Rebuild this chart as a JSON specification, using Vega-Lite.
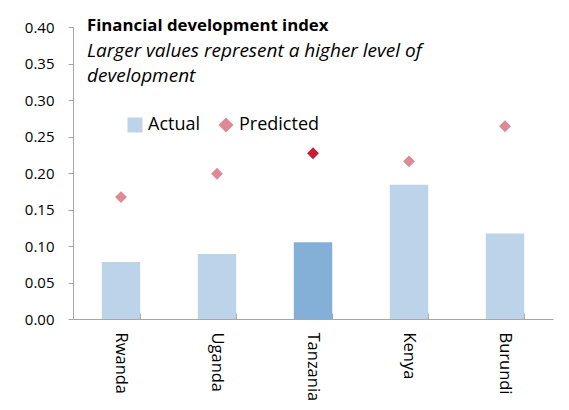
{
  "$schema": "https://vega.github.io/schema/vega-lite/v6.json",
  "autosize": "none",
  "width": 480,
  "height": 292,
  "padding": {"left": 73, "top": 27, "right": 16, "bottom": 91},
  "background": "white",
  "config": {
    "view": {"stroke": null},
    "font": "Open Sans"
  },
  "title": {
    "text": "Financial development index",
    "subtitle": ["Larger values represent a higher level of", "development"],
    "anchor": "start",
    "frame": "group",
    "orient": "top",
    "dx": 14,
    "offset": -66,
    "font": "Open Sans",
    "fontSize": 16.8,
    "fontWeight": "bold",
    "color": "#000000",
    "subtitleFont": "Open Sans",
    "subtitleFontSize": 19,
    "subtitleFontStyle": "italic",
    "subtitleColor": "#000000",
    "subtitleLineHeight": 25,
    "subtitlePadding": 7
  },
  "data": {
    "values": [
      {"country": "Rwanda", "series": "Actual", "value": 0.078},
      {"country": "Uganda", "series": "Actual", "value": 0.089},
      {"country": "Tanzania", "series": "Actual", "value": 0.105},
      {"country": "Kenya", "series": "Actual", "value": 0.184},
      {"country": "Burundi", "series": "Actual", "value": 0.117},
      {"country": "Rwanda", "series": "Predicted", "value": 0.167},
      {"country": "Uganda", "series": "Predicted", "value": 0.199},
      {"country": "Tanzania", "series": "Predicted", "value": 0.227},
      {"country": "Kenya", "series": "Predicted", "value": 0.216},
      {"country": "Burundi", "series": "Predicted", "value": 0.264}
    ]
  },
  "encoding": {
    "x": {
      "field": "country",
      "type": "nominal",
      "sort": ["Rwanda", "Uganda", "Tanzania", "Kenya", "Burundi"],
      "scale": {"paddingInner": 0.6, "paddingOuter": 0.3},
      "axis": {
        "title": null,
        "labelAngle": 90,
        "labelAlign": "left",
        "labelBaseline": "middle",
        "labelFontSize": 16.5,
        "labelFont": "Open Sans",
        "labelColor": "#000000",
        "labelPadding": 19,
        "domainColor": "#A6A6A6",
        "tickColor": "#A6A6A6",
        "tickSize": -6,
        "bandPosition": 1
      }
    },
    "y": {
      "field": "value",
      "type": "quantitative",
      "scale": {"domain": [0, 0.4]},
      "axis": {
        "title": null,
        "format": ".2f",
        "values": [0, 0.05, 0.1, 0.15, 0.2, 0.25, 0.3, 0.35, 0.4],
        "grid": false,
        "labelFontSize": 15,
        "labelFont": "Open Sans",
        "labelColor": "#000000",
        "labelPadding": 14,
        "domainColor": "#A6A6A6",
        "tickColor": "#A6A6A6",
        "tickSize": 5
      }
    }
  },
  "layer": [
    {
      "transform": [{"filter": "datum.series === 'Actual'"}],
      "mark": {"type": "bar"},
      "encoding": {
        "color": {
          "condition": {"test": "datum.country === 'Tanzania'", "value": "#84B0D8"},
          "value": "#BDD3E9"
        }
      }
    },
    {
      "transform": [{"filter": "datum.series === 'Predicted'"}],
      "mark": {"type": "point", "filled": true, "opacity": 1, "size": 140},
      "encoding": {
        "color": {
          "condition": {"test": "datum.country === 'Tanzania'", "value": "#C41E3A"},
          "field": "series",
          "type": "nominal",
          "scale": {"domain": ["Actual", "Predicted"], "range": ["#BDD3E9", "#DB8A96"]},
          "legend": {
            "title": null,
            "orient": "none",
            "legendX": 53,
            "legendY": 89,
            "direction": "horizontal",
            "labelFontSize": 18,
            "labelFont": "Open Sans",
            "labelColor": "#000000",
            "symbolSize": 225,
            "columnPadding": 16,
            "labelOffset": 4,
            "encode": {"symbols": {"update": {"size": {"signal": "datum.value === 'Actual' ? 225 : 110"}}}}
          }
        },
        "shape": {
          "field": "series",
          "type": "nominal",
          "scale": {"domain": ["Actual", "Predicted"], "range": ["square", "diamond"]},
          "legend": {
            "title": null,
            "orient": "none",
            "legendX": 53,
            "legendY": 89,
            "direction": "horizontal",
            "labelFontSize": 18,
            "labelFont": "Open Sans",
            "labelColor": "#000000",
            "symbolSize": 225,
            "columnPadding": 16,
            "labelOffset": 4,
            "encode": {"symbols": {"update": {"size": {"signal": "datum.value === 'Actual' ? 225 : 110"}}}}
          }
        }
      }
    }
  ]
}
